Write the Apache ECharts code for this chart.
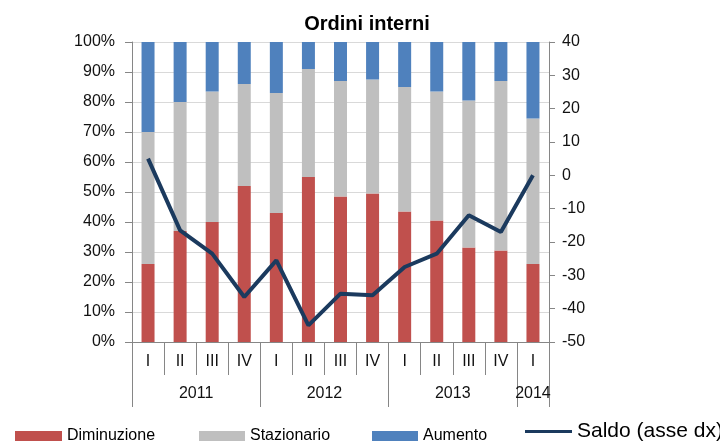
<!DOCTYPE html>
<html>
<head>
<meta charset="utf-8">
<script src="https://cdn.jsdelivr.net/npm/echarts@6/dist/echarts.min.js"></script>
<style>
  html, body { margin: 0; padding: 0; background: #fff; }
  #chart { width: 720px; height: 441px; }
</style>
</head>
<body>
<div id="chart"></div>
<script>
// dati (quote % e saldo)
var quarters = ['I', 'II', 'III', 'IV', 'I', 'II', 'III', 'IV', 'I', 'II', 'III', 'IV', 'I'];
var years = ['2011', '2012', '2013', '2014'];
var yearQuarters = [4, 4, 4, 1];
var diminuzione = [26, 37, 40, 52, 43, 55, 48.5, 49.5, 43.5, 40.5, 31.5, 30.5, 26];
var stazionario = [44, 43, 43.5, 34, 40, 36, 38.5, 38, 41.5, 43, 49, 56.5, 48.5];
var aumento = [30, 20, 16.5, 14, 17, 9, 13, 12.5, 15, 16.5, 19.5, 13, 25.5];
var saldo = [5, -16.5, -23.5, -36.5, -25.5, -45, -35.5, -36, -27.5, -23.5, -12, -17, 0];

// asse degli anni: mezzi trimestri, etichetta al centro di ogni anno, tacca ai bordi
var yearSlots = [];
var yearLabelAt = {};
var yearTickAt = { 0: true };
var pos = 0;
for (var i = 0; i < years.length; i++) {
  yearLabelAt[pos + yearQuarters[i]] = years[i];
  pos += yearQuarters[i] * 2;
  yearTickAt[pos] = true;
}
for (var k = 0; k <= pos; k++) yearSlots.push(String(k));

var axisGray = '#868686';
var txt = '#111';
var font = 'Liberation Sans, Arial, sans-serif';

var myChart = echarts.init(document.getElementById('chart'));

function legendBox(name, left, top, size, w, h) {
  return {
    left: left, top: top, orient: 'horizontal', padding: 0,
    itemWidth: w, itemHeight: h, itemGap: 0,
    icon: 'rect',
    data: [name],
    textStyle: { fontFamily: font, fontSize: size, color: '#000' }
  };
}

myChart.setOption({
  animation: false,
  title: {
    text: 'Ordini interni',
    left: 362, top: 9, textAlign: 'center',
    textStyle: { fontFamily: font, fontSize: 20, fontWeight: 'bold', color: '#000' }
  },
  legend: [
    legendBox('Diminuzione', 15, 428, 16, 47, 10),
    legendBox('Stazionario', 199, 428, 16, 46, 10),
    legendBox('Aumento', 372, 428, 16, 46, 10),
    legendBox('Saldo (asse dx)', 525, 421, 21, 47, 3)
  ],
  grid: { left: 132, right: 171, top: 42, bottom: 99 },
  xAxis: [{
    type: 'category',
    data: quarters,
    position: 'bottom',
    axisLine: { onZero: false, lineStyle: { color: axisGray, width: 1 } },
    axisTick: { show: true, interval: 0, length: 33, lineStyle: { color: axisGray } },
    axisLabel: { interval: 0, margin: 12, color: txt, fontFamily: font, fontSize: 16 },
    splitLine: { show: false }
  }, {
    type: 'category',
    data: yearSlots,
    position: 'bottom',
    boundaryGap: false,
    axisLine: { show: false, onZero: false },
    axisTick: {
      show: true, length: 65, lineStyle: { color: axisGray },
      interval: function (idx) { return !!yearTickAt[idx]; }
    },
    axisLabel: {
      margin: 44, color: txt, fontFamily: font, fontSize: 16,
      interval: function (idx) { return !!yearLabelAt[idx]; },
      formatter: function (v, idx) { return yearLabelAt[idx] || ''; }
    },
    splitLine: { show: false }
  }],
  yAxis: [{
    type: 'value', min: 0, max: 100, interval: 10,
    axisLine: { show: true, lineStyle: { color: axisGray } },
    axisTick: { show: true, length: 7, lineStyle: { color: axisGray } },
    axisLabel: { formatter: '{value}%', margin: 17, color: txt, fontFamily: font, fontSize: 16 },
    splitLine: { show: true, lineStyle: { color: '#d9d9d9', width: 1 } }
  }, {
    type: 'value', min: -50, max: 40, interval: 10,
    axisLine: { show: true, lineStyle: { color: axisGray } },
    axisTick: { show: true, length: 6, lineStyle: { color: axisGray } },
    axisLabel: { margin: 13, color: txt, fontFamily: font, fontSize: 16 },
    splitLine: { show: false }
  }],
  series: [{
    name: 'Diminuzione', type: 'bar', stack: 'tot', barWidth: 13,
    itemStyle: { color: '#C0504D' }, data: diminuzione
  }, {
    name: 'Stazionario', type: 'bar', stack: 'tot', barWidth: 13,
    itemStyle: { color: '#BFBFBF' }, data: stazionario
  }, {
    name: 'Aumento', type: 'bar', stack: 'tot', barWidth: 13,
    itemStyle: { color: '#4F81BD' }, data: aumento
  }, {
    name: 'Saldo (asse dx)', type: 'line', yAxisIndex: 1,
    symbol: 'none', z: 5,
    lineStyle: { color: '#1B3A5E', width: 4 },
    itemStyle: { color: '#1B3A5E' },
    data: saldo
  }]
});
</script>
</body>
</html>
